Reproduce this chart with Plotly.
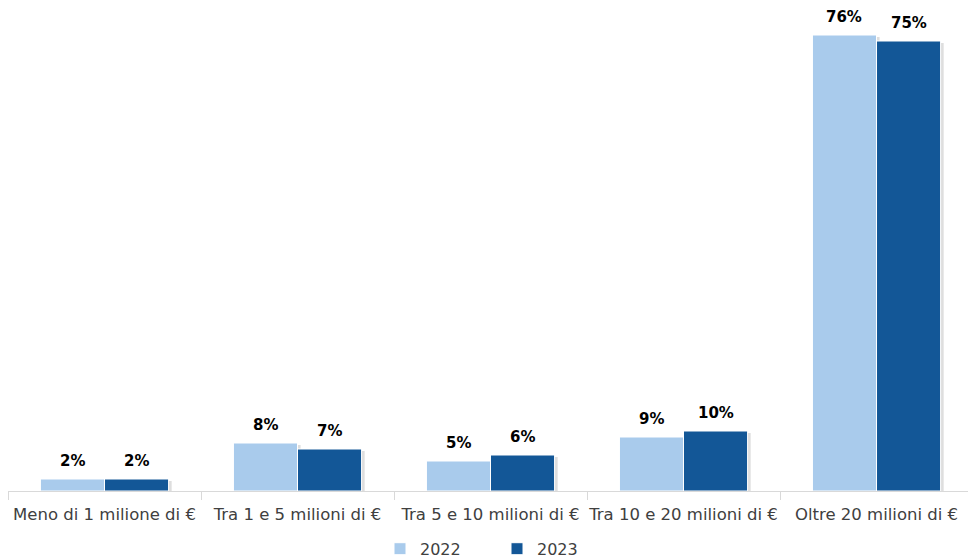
import plotly.graph_objects as go

categories = [
    "Meno di 1 milione di €",
    "Tra 1 e 5 milioni di €",
    "Tra 5 e 10 milioni di €",
    "Tra 10 e 20 milioni di €",
    "Oltre 20 milioni di €",
]
values_2022 = [2, 8, 5, 9, 76]
values_2023 = [2, 7, 6, 10, 75]
series_names = ["2022", "2023"]

colors = ["#A9CBEC", "#135797"]
font_family = "'DejaVu Sans', sans-serif"

bar_w = 0.332
offsets = [-bar_w, 0.0]
shadow_dx = 0.016

fig = go.Figure()

# soft drop shadows behind each bar
for vals, off in zip([values_2022, values_2023], offsets):
    fig.add_trace(go.Bar(
        x=categories, y=[v - 0.35 for v in vals],
        offset=off + shadow_dx, width=bar_w,
        marker=dict(color="rgba(0,0,0,0.13)", line=dict(width=0)),
        showlegend=False, hoverinfo="skip",
    ))

for name, vals, off, col in zip(series_names, [values_2022, values_2023], offsets, colors):
    fig.add_trace(go.Bar(
        x=categories, y=vals, name=name,
        offset=off, width=bar_w,
        marker=dict(color=col, line=dict(color="white", width=1)),
    ))

# value labels above bars
for vals, off in zip([values_2022, values_2023], offsets):
    for i, v in enumerate(vals):
        fig.add_annotation(
            x=i + off + bar_w / 2, y=v, text=f"<b>{v}%</b>",
            showarrow=False, yanchor="bottom", yshift=7,
            font=dict(family=font_family, size=15, color="#000000"),
        )

fig.update_layout(
    width=968, height=560,
    margin=dict(l=8, r=0, t=11, b=69, autoexpand=False),
    paper_bgcolor="white", plot_bgcolor="white",
    barmode="overlay",
    font=dict(family=font_family, size=15, color="#404040"),
    showlegend=True,
    legend=dict(
        orientation="h", x=0.3875, xanchor="left",
        yref="container", y=0.02, yanchor="middle",
        font=dict(size=16, color="#404040"), entrywidth=72, entrywidthmode="pixels",
        traceorder="normal", itemwidth=30,
    ),
    xaxis=dict(
        type="category", range=[-0.5, 4.474], tickangle=0, automargin=False,
        showline=True, linecolor="#D9D9D9", linewidth=1,
        ticks="outside", tickson="boundaries", ticklen=8, tickcolor="#D9D9D9",
        ticklabelstandoff=8,
        showgrid=False, tickfont=dict(size=16.5, color="#404040"),
    ),
    yaxis=dict(
        range=[0, 80], visible=False, showgrid=False, zeroline=False,
    ),
)

fig.write_html("out.html")
